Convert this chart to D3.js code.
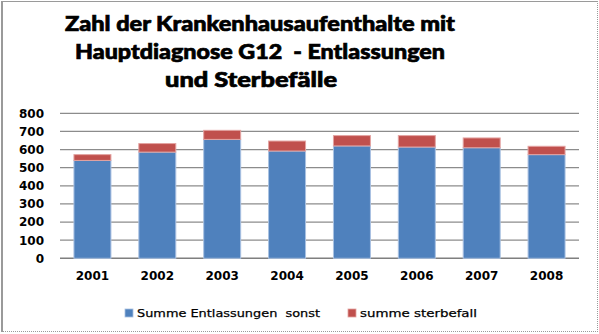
<!DOCTYPE html>
<html>
<head>
<meta charset="utf-8">
<script src="https://cdn.jsdelivr.net/npm/d3@7"></script>
<style>
  html, body { margin: 0; padding: 0; background: #fff; }
  svg { display: block; }
</style>
</head>
<body>
<svg id="chart" width="599" height="334"></svg>
<script>
// Hospital stays with main diagnosis G12: discharges and deaths per year
const years = ["2001", "2002", "2003", "2004", "2005", "2006", "2007", "2008"];
const entlassungen = [540, 586, 656, 592, 620, 614, 610, 572];
const sterbefaelle = [32, 47, 50, 55, 57, 63, 54, 46];
const yTicks = [0, 100, 200, 300, 400, 500, 600, 700, 800];
const seriesNames = ["Summe Entlassungen  sonst", "summe sterbefall"];
const titleLines = [
  "Zahl der Krankenhausaufenthalte mit",
  "Hauptdiagnose G12  - Entlassungen",
  "und Sterbefälle"
];

const colors = ["#4f81bd", "#c0504d"];
const edge = ["#a9c1e2", "#e3a3a1"];

const svg = d3.select("#chart");

// outer frame
svg.append("line").attr("x1", 2).attr("x2", 2).attr("y1", 1).attr("y2", 332)
  .attr("stroke", "#9a9a9a").attr("stroke-width", 2);
svg.append("line").attr("x1", 1).attr("x2", 598).attr("y1", 1.5).attr("y2", 1.5)
  .attr("stroke", "#9a9a9a").attr("stroke-width", 1);
svg.append("line").attr("x1", 597.5).attr("x2", 597.5).attr("y1", 1).attr("y2", 332)
  .attr("stroke", "#9a9a9a").attr("stroke-width", 1).attr("stroke-dasharray", "1,1");
svg.append("line").attr("x1", 1).attr("x2", 598).attr("y1", 331.5).attr("y2", 331.5)
  .attr("stroke", "#9a9a9a").attr("stroke-width", 1).attr("stroke-dasharray", "1,1");

// title
const titleSpec = [
  { y: 31, x0: 65, x1: 455 },
  { y: 59, x0: 75, x1: 445 },
  { y: 87, x0: 165, x1: 337 }
];
titleLines.forEach((t, i) => {
  const s = titleSpec[i];
  svg.append("text")
    .attr("x", s.x0).attr("y", s.y)
    .attr("font-family", "Lato, 'Open Sans', sans-serif")
    .attr("font-weight", 900)
    .attr("font-size", 21)
    .attr("fill", "#000")
    .attr("stroke", "#000")
    .attr("stroke-width", 0.7)
    .attr("textLength", s.x1 - s.x0)
    .attr("lengthAdjust", "spacingAndGlyphs")
    .style("white-space", "pre")
    .text(t);
});

// scales
const x = d3.scaleBand().domain(years).range([60, 579]).paddingInner(0.43).paddingOuter(0.215);
const y = d3.scaleLinear().domain([0, 800]).range([258.3, 113.3]);

// gridlines
svg.append("g").selectAll("line").data(yTicks).join("line")
  .attr("x1", 60).attr("x2", 579)
  .attr("y1", d => y(d)).attr("y2", d => y(d))
  .attr("stroke", d => d === 0 ? "#7f7f7f" : "#8c8c8c")
  .attr("stroke-width", d => d === 0 ? 1.5 : 1.3);

// y axis labels
const yAxis = d3.axisLeft(y).tickValues(yTicks).tickSize(0).tickPadding(0);
const gy = svg.append("g").attr("transform", "translate(44,0)").call(yAxis);
gy.select(".domain").remove();
gy.selectAll("text")
  .attr("font-family", "'DejaVu Sans', Verdana, sans-serif")
  .attr("font-weight", "bold")
  .attr("font-size", 12)
  .attr("fill", "#000");

// x axis labels
const xAxis = d3.axisBottom(x).tickSize(0).tickPadding(0);
const gx = svg.append("g").attr("transform", "translate(0,271)").call(xAxis);
gx.select(".domain").remove();
gx.selectAll("text")
  .attr("font-family", "'DejaVu Sans', Verdana, sans-serif")
  .attr("font-weight", "bold")
  .attr("font-size", 12)
  .attr("fill", "#000");

// stacked bars
const rows = years.map((yr, i) => ({ year: yr, a: entlassungen[i], b: sterbefaelle[i] }));
const stack = d3.stack().keys(["a", "b"])(rows);
svg.append("g").selectAll("g").data(stack).join("g")
  .attr("fill", (d, i) => colors[i])
  .attr("stroke", (d, i) => edge[i])
  .attr("stroke-width", 1)
  .selectAll("rect").data(d => d).join("rect")
  .attr("x", d => x(d.data.year))
  .attr("width", x.bandwidth())
  .attr("y", d => y(d[1]))
  .attr("height", d => y(d[0]) - y(d[1]));

// legend
const legendSpec = [
  { sx: 125, tx: 137, tw: 183 },
  { sx: 348, tx: 360, tw: 117 }
];
seriesNames.forEach((n, i) => {
  const s = legendSpec[i];
  svg.append("rect").attr("x", s.sx).attr("y", 309).attr("width", 8).attr("height", 8)
    .attr("fill", colors[i]).attr("stroke", edge[i]).attr("stroke-width", 0.8);
  svg.append("text").attr("x", s.tx).attr("y", 317)
    .attr("font-family", "'DejaVu Sans', Verdana, sans-serif")
    .attr("font-size", 11)
    .attr("fill", "#000")
    .attr("stroke", "#000")
    .attr("stroke-width", 0.25)
    .attr("textLength", s.tw)
    .attr("lengthAdjust", "spacingAndGlyphs")
    .style("white-space", "pre")
    .text(n);
});
</script>
</body>
</html>
